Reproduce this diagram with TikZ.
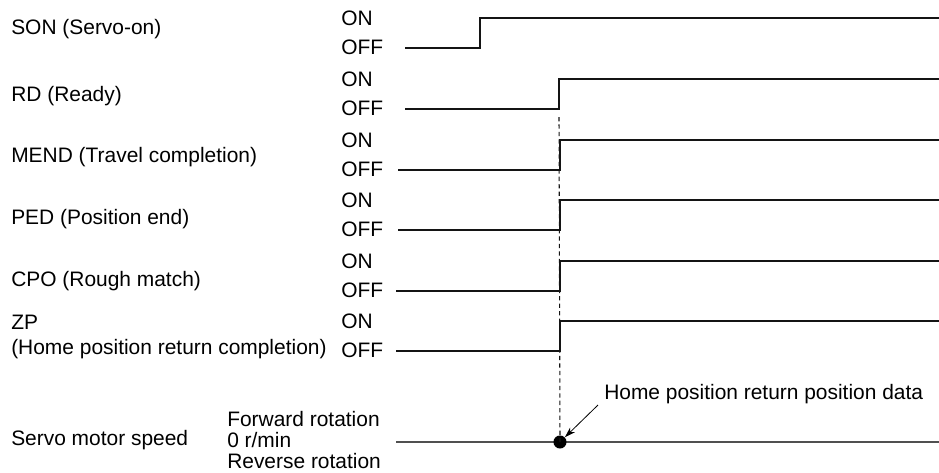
\documentclass[tikz,border=0pt]{standalone}
\usepackage{fontspec}
\setmainfont{Liberation Sans}
\usetikzlibrary{arrows.meta,positioning}
\definecolor{sigblack}{RGB}{20,20,20}
\definecolor{speedgray}{RGB}{80,80,80}

\begin{document}
\begin{tikzpicture}[x=0.75pt, y=-0.75pt, font=\fontsize{15.7}{18}\selectfont,
    txt/.style={anchor=west, inner sep=0pt},
    wave/.style={sigblack, line width=1.1pt},
    markline/.style={sigblack, line width=0.8pt, dash pattern=on 3.2pt off 2.4pt}]
  \useasboundingbox (0,0) rectangle (939,472);
  % --- signal names, ON/OFF levels and waveforms
  \foreach \id/\name/\ny/\lo/\xs/\xe in {son/SON (Servo-on)/29/48/405/480,
      rd/RD (Ready)/96/109/405/559, mend/MEND (Travel completion)/157/170/398/560,
      ped/PED (Position end)/219/230/398/560, cpo/CPO (Rough match)/281/291/396/560,
      zp/ZP/322/351/396/560}{
    \node[txt] (\id-name) at (11,\ny) {\name};
    \node[txt] (\id-on) at (341,\lo-30) {ON};
    \node[txt] (\id-off) at (341,\lo-1) {OFF};
    \coordinate (\id-a) at (\xs,\lo);
    \coordinate (\id-b) at (\xe,\lo);
    \coordinate (\id-c) at (939,\lo-30);
    \draw[wave] (\id-a) -- (\id-b) |- (\id-c);
  }
  \node[txt] (zp-long) at (11,349) {(Home position return completion)};
  % --- servo motor speed
  \node[txt] (speed-name) at (11,440) {Servo motor speed};
  \node[txt] (speed-fwd) at (227,419) {Forward rotation};
  \node[txt] (speed-zero) at (227,440) {0 r/min};
  \node[txt] (speed-rev) at (227,461) {Reverse rotation};
  \coordinate (speed-a) at (396,442);
  \coordinate (speed-b) at (939,442);
  \draw[speedgray, line width=1.5pt] (speed-a) -- (speed-b);
  \node[circle, fill=black, inner sep=0pt, minimum size=9.8pt] (dot) at (560,442) {};
  \coordinate (mark-top) at (559,117);
  \draw[markline] (mark-top) -- (dot.center);
  % --- home position data
  \node[txt] (data) at (604,394) {Home position return position data};
  \coordinate (data-tail) at (598,405);
  \draw[-{Stealth[length=8pt,width=5pt]}, line width=0.6pt] (data-tail) -- (dot);
\end{tikzpicture}
\end{document}
